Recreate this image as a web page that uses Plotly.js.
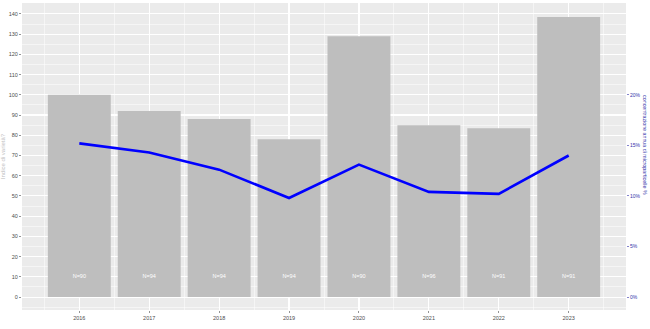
<!DOCTYPE html>
<html><head><meta charset="utf-8">
<script src="https://cdn.plot.ly/plotly-3.0.1.min.js"></script>
<style>html,body{margin:0;padding:0;background:#fff}#c{width:650px;height:329px}</style>
</head><body><div id="c"></div>
<script>
const years = [2016, 2017, 2018, 2019, 2020, 2021, 2022, 2023];
const indice = [100, 92, 88, 78, 129, 85, 83.5, 138.5];
const concPct = [15.2, 14.3, 12.6, 9.8, 13.1, 10.4, 10.2, 14.0];
const nLabels = ["N=90", "N=94", "N=94", "N=94", "N=90", "N=96", "N=91", "N=91"];
const leftTicks = [0,10,20,30,40,50,60,70,80,90,100,110,120,130,140];
const rightTicks = [0, 5, 10, 15, 20];
const rightTickText = rightTicks.map(v => v + "%");

const scale = 5; // left units per percent
const leftRange = [-6.4, 145.4];

const traces = [
  {type:'bar', x: years, y: indice, width: 0.9, marker:{color:'#BEBEBE'}, hoverinfo:'skip', yaxis:'y'},
  {type:'scatter', mode:'text', x: years, y: years.map(()=>10), text: nLabels,
   textfont:{color:'#FFFFFF', size:5.5, family:'Liberation Sans, Arial, sans-serif'}, yaxis:'y', hoverinfo:'skip'},
  {type:'scatter', mode:'lines', x: years, y: concPct, line:{color:'#0000FF', width:2.6}, yaxis:'y2', hoverinfo:'skip'}
];

const layout = {
  width:650, height:329,
  margin:{l:22, r:24, t:3, b:19},
  paper_bgcolor:'#FFFFFF', plot_bgcolor:'#EBEBEB',
  showlegend:false,
  font:{family:'Liberation Sans, Arial, sans-serif', size:5.5, color:'#4D4D4D'},
  xaxis:{range:[2015.18, 2023.82], tickvals: years, ticktext: years.map(String),
    showgrid:true, gridcolor:'#FFFFFF', gridwidth:1.1, zeroline:false,
    ticks:'outside', ticklen:2, tickcolor:'#4D4D4D', tickwidth:0.6,
    tickfont:{size:5.5, color:'#4D4D4D'},
    minor:{tick0:2015.5, dtick:1, showgrid:true, gridcolor:'#FFFFFF', gridwidth:0.5}},
  yaxis:{range: leftRange, tickvals: leftTicks, showgrid:true, gridcolor:'#FFFFFF', gridwidth:1.1, zeroline:false,
    ticks:'outside', ticklen:2, tickcolor:'#4D4D4D', tickwidth:0.6,
    tickfont:{size:5.5, color:'#4D4D4D'},
    minor:{tick0:5, dtick:10, showgrid:true, gridcolor:'#FFFFFF', gridwidth:0.5},
    title:{text:'Indice di varietà?', font:{size:6, color:'#BEBEBE'}, standoff:4}},
  yaxis2:{overlaying:'y', side:'right', range:[leftRange[0]/scale, leftRange[1]/scale],
    tickvals: rightTicks, ticktext: rightTickText, showgrid:false, zeroline:false,
    ticks:'outside', ticklen:2, tickcolor:'#3333AA', tickwidth:0.6,
    tickfont:{size:5, color:'#3333AA'}},
  annotations:[{text:'concentrazione annua di microparticelle %', xref:'paper', yref:'paper',
    x:1.0315, y:0.537, xanchor:'center', yanchor:'middle', showarrow:false, textangle:90,
    font:{size:5.3, color:'#3333AA'}}]
};
Plotly.newPlot('c', traces, layout, {staticPlot:true, displayModeBar:false});
</script></body></html>
